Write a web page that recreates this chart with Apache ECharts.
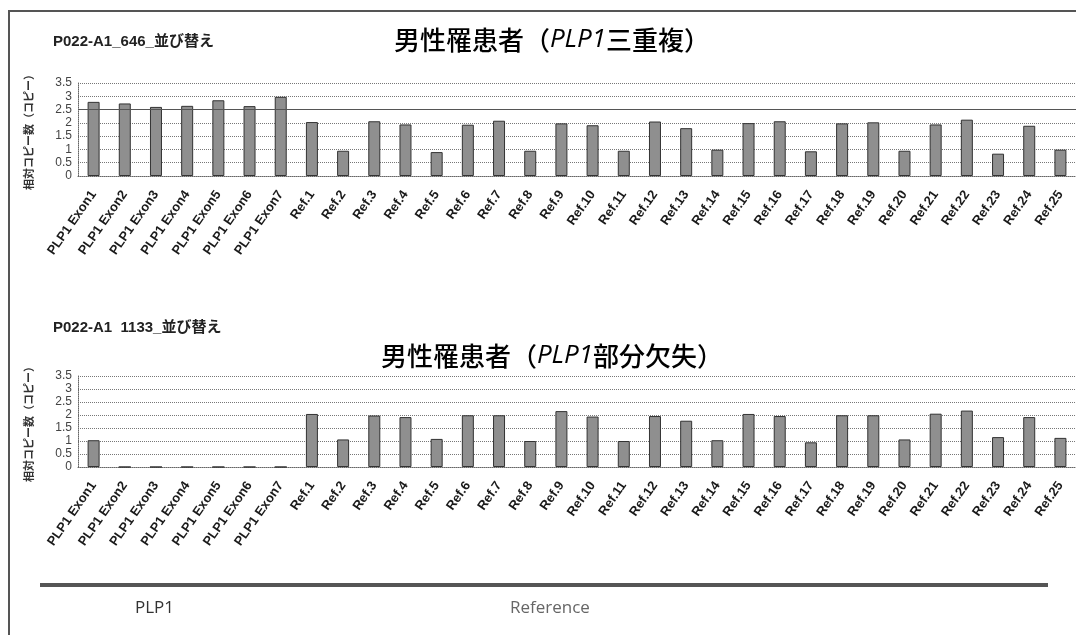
<!DOCTYPE html>
<html>
<head>
<meta charset="utf-8">
<title>PLP1 相対コピー数</title>
<script src="https://cdn.jsdelivr.net/npm/echarts@6/dist/echarts.min.js"></script>
<style>
  html, body { margin: 0; padding: 0; background: #fff; }
  #main { width: 1076px; height: 635px; }
</style>
</head>
<body>
<div id="main"></div>
<script>
// categories
var exonLabels = ['PLP1 Exon1', 'PLP1 Exon2', 'PLP1 Exon3', 'PLP1 Exon4', 'PLP1 Exon5', 'PLP1 Exon6', 'PLP1 Exon7'];
var refLabels = ['Ref.1', 'Ref.2', 'Ref.3', 'Ref.4', 'Ref.5', 'Ref.6', 'Ref.7', 'Ref.8', 'Ref.9', 'Ref.10',
	'Ref.11', 'Ref.12', 'Ref.13', 'Ref.14', 'Ref.15', 'Ref.16', 'Ref.17', 'Ref.18', 'Ref.19', 'Ref.20',
	'Ref.21', 'Ref.22', 'Ref.23', 'Ref.24', 'Ref.25'];
var categories = exonLabels.concat(refLabels);

// P022-A1_646 (三重複)
var dupValues = [2.79, 2.73, 2.6, 2.64, 2.85, 2.63, 2.98,
	2.03, 0.95, 2.06, 1.94, 0.9, 1.93, 2.08, 0.95, 1.98, 1.91,
	0.95, 2.05, 1.8, 0.99, 1.99, 2.06, 0.93, 1.98, 2.02, 0.95,
	1.94, 2.12, 0.84, 1.89, 0.99];

// P022-A1 1133 (部分欠失)
var delValues = [1.03, 0, 0, 0, 0, 0, 0,
	2.04, 1.06, 1.98, 1.92, 1.08, 1.99, 1.99, 1.0, 2.15, 1.94,
	1.0, 1.96, 1.78, 1.03, 2.04, 1.96, 0.95, 1.99, 1.99, 1.06,
	2.05, 2.17, 1.15, 1.92, 1.12];

var yMin = 0, yMax = 3.5, yStep = 0.5;
var dupThreshold = [2.5];
var axisName = '相対コピー数（コピー）';

var chart = echarts.init(document.getElementById('main'));

function xAxisFor(idx) {
	return {
		type: 'category',
		gridIndex: idx,
		data: categories,
		axisLine: { lineStyle: { color: '#666', type: 'dotted' } },
		axisTick: { show: false },
		axisLabel: {
			interval: 0,
			rotate: 55,
			margin: 16,
			fontSize: 13,
			fontWeight: 'bold',
			color: '#1a1a1a',
			fontFamily: 'Liberation Sans, Arial, sans-serif'
		}
	};
}

function yAxisFor(idx) {
	return {
		type: 'value',
		gridIndex: idx,
		min: yMin,
		max: yMax,
		interval: yStep,
		name: axisName,
		nameLocation: 'middle',
		nameRotate: 90,
		nameGap: 44,
		nameTextStyle: { fontSize: 11, fontWeight: 'bold', color: '#333', fontFamily: 'Noto Sans CJK JP' },
		axisLine: { show: true, lineStyle: { color: '#666', type: 'dotted' } },
		axisTick: { show: false },
		axisLabel: { margin: 6, fontSize: 12, color: '#444', fontFamily: 'Liberation Sans, Arial, sans-serif' },
		splitLine: { lineStyle: { color: '#777', type: 'dotted' } }
	};
}

var barStyle = { color: '#8f8f8f', borderColor: '#333', borderWidth: 1 };

chart.setOption({
	backgroundColor: '#fff',
	animation: false,
	grid: [
		{ left: 78, right: 0, top: 83, height: 93 },
		{ left: 78, right: 0, top: 376, height: 91 }
	],
	xAxis: [xAxisFor(0), xAxisFor(1)],
	yAxis: [yAxisFor(0), yAxisFor(1)],
	series: [{
		name: '三重複',
		type: 'bar',
		xAxisIndex: 0,
		yAxisIndex: 0,
		barWidth: 12,
		itemStyle: barStyle,
		data: dupValues,
		markLine: {
			silent: true,
			symbol: 'none',
			label: { show: false },
			lineStyle: { type: 'solid', color: '#555', width: 1 },
			data: dupThreshold.map(function (v) { return { yAxis: v }; })
		}
	}, {
		name: '部分欠失',
		type: 'bar',
		xAxisIndex: 1,
		yAxisIndex: 1,
		barWidth: 12,
		itemStyle: barStyle,
		data: delValues
	}],
	graphic: [
		// frame (left and top edges visible, rest cropped)
		{ type: 'rect', shape: { x: 9, y: 11, width: 1200, height: 800 },
			style: { fill: 'none', stroke: '#555', lineWidth: 2 } },
		{ type: 'text', x: 53, y: 42,
			style: { text: 'P022-A1_646_並び替え', fill: '#222',
				font: 'bold 15px "Liberation Sans", "Noto Sans CJK JP"', textVerticalAlign: 'middle' } },
		{ type: 'text', x: 53, y: 328,
			style: { text: 'P022-A1  1133_並び替え', fill: '#222',
				font: 'bold 15px "Liberation Sans", "Noto Sans CJK JP"', textVerticalAlign: 'middle' } },
		{ type: 'text', x: 552, y: 40,
			style: {
				text: '{n|男性罹患者（}{i|PLP1}{n|三重複）}',
				textAlign: 'center', textVerticalAlign: 'middle',
				rich: {
					n: { fontSize: 26, fontFamily: 'Noto Sans CJK JP', fontWeight: 500, color: '#1a1a1a' },
					i: { fontSize: 26, fontStyle: 'italic', fontFamily: 'Open Sans', color: '#1a1a1a' }
				}
			} },
		{ type: 'text', x: 552, y: 356,
			style: {
				text: '{n|男性罹患者（}{i|PLP1}{n|部分欠失）}',
				textAlign: 'center', textVerticalAlign: 'middle',
				rich: {
					n: { fontSize: 26, fontFamily: 'Noto Sans CJK JP', fontWeight: 500, color: '#1a1a1a' },
					i: { fontSize: 26, fontStyle: 'italic', fontFamily: 'Open Sans', color: '#1a1a1a' }
				}
			} },
		// region bar under the lower chart
		{ type: 'line', shape: { x1: 40, y1: 585, x2: 1048, y2: 585 },
			style: { stroke: '#555', lineWidth: 4 } },
		{ type: 'text', x: 135, y: 608,
			style: { text: 'PLP1', font: '17px "Open Sans"', fill: '#333', textVerticalAlign: 'middle' } },
		{ type: 'text', x: 510, y: 608,
			style: { text: 'Reference', font: '17px "Open Sans"', fill: '#666', textVerticalAlign: 'middle' } }
	]
});
</script>
</body>
</html>
